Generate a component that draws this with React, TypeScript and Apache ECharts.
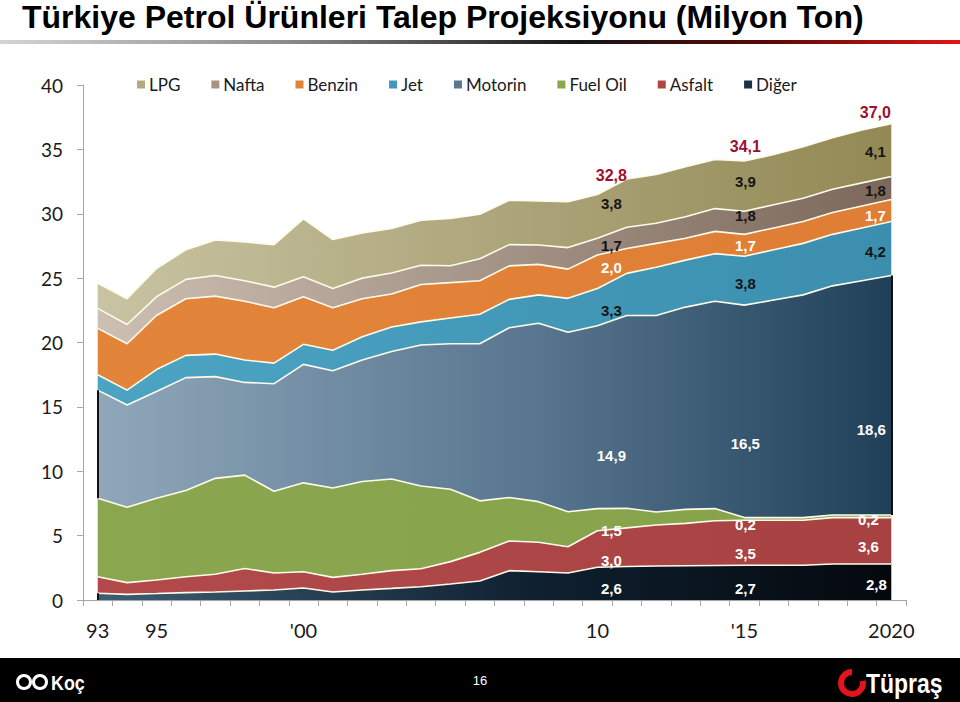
import React, { useEffect, useRef } from 'react';
import * as echarts from 'echarts';

// ---- categories ----
const years = ['1993','1994','1995','1996','1997','1998','1999','2000','2001','2002','2003','2004','2005','2006','2007','2008','2009','2010','2011','2012','2013','2014','2015','2016','2017','2018','2019','2020'];
const tickLabels: Record<string, string> = { '1993': '93', '1995': '95', '2000': "'00", '2010': '10', '2015': "'15", '2020': '2020' };

// ---- series values (Milyon Ton), bottom to top ----
const diger   = [0.52,0.44,0.5,0.57,0.62,0.7,0.78,0.93,0.62,0.78,0.9,1.03,1.24,1.48,2.28,2.2,2.1,2.54,2.6,2.64,2.66,2.68,2.7,2.7,2.7,2.8,2.8,2.8];
const asfalt  = [1.28,0.91,1.05,1.23,1.38,1.75,1.32,1.27,1.14,1.22,1.38,1.4,1.74,2.22,2.3,2.28,2.04,2.84,3.0,3.18,3.29,3.47,3.5,3.5,3.5,3.6,3.6,3.6];
const fuelOil = [6.1,5.85,6.35,6.7,7.45,7.25,6.35,6.9,6.94,7.2,7.12,6.42,5.62,4.0,3.38,3.16,2.72,1.72,1.52,1.01,1.09,0.95,0.2,0.2,0.2,0.2,0.2,0.2];
const motorin = [8.4,7.95,8.3,8.77,7.9,7.2,8.35,9.2,9.1,9.44,9.9,10.95,11.3,12.2,13.19,13.86,13.94,14.2,14.98,15.27,15.71,16.1,16.5,16.9,17.3,17.8,18.2,18.6];
const jet     = [1.2,1.15,1.7,1.73,1.75,1.74,1.6,1.56,1.6,1.81,1.9,1.8,2.0,2.3,2.2,2.2,2.63,2.9,3.27,3.74,3.65,3.7,3.8,3.9,4.0,4.0,4.1,4.2];
const benzin  = [3.6,3.6,4.2,4.4,4.5,4.56,4.3,3.7,3.3,2.95,2.57,2.9,2.75,2.6,2.6,2.37,2.27,2.6,1.93,1.86,1.7,1.73,1.7,1.7,1.7,1.7,1.7,1.7];
const nafta   = [1.55,1.5,1.45,1.5,1.6,1.6,1.6,1.54,1.5,1.6,1.63,1.5,1.31,1.7,1.65,1.5,1.67,1.3,1.65,1.56,1.67,1.77,1.8,1.8,1.8,1.8,1.8,1.8];
const lpg     = [1.95,2.0,2.2,2.3,2.76,3.0,3.3,4.5,3.8,3.5,3.45,3.5,3.68,3.46,3.45,3.43,3.57,3.4,3.75,3.8,3.88,3.82,3.9,3.9,4.0,4.0,4.1,4.1];

// ---- annotated values (Diğer, Asfalt, Fuel Oil, Motorin, Jet, Benzin, Nafta, LPG) ----
const annotYears = ['2010', '2015', '2020'];
const annotTotals = [32.8, 34.1, 37.0];
const annot2010 = [2.6, 3.0, 1.5, 14.9, 3.3, 2.0, 1.7, 3.8];
const annot2015 = [2.7, 3.5, 0.2, 16.5, 3.8, 1.7, 1.8, 3.9];
const annot2020 = [2.8, 3.6, 0.2, 18.6, 4.2, 1.7, 1.8, 4.1];

// label anchor heights (axis units; last = total) and horizontal nudges (px)
const annotPos = [
  [0.93, 3.1, 5.36, 11.26, 22.45, 25.86, 27.57, 30.76, 33.0],
  [0.93, 3.65, 5.9, 12.19, 24.62, 27.57, 29.83, 32.54, 35.26],
  [1.17, 4.12, 6.29, 13.28, 27.03, 29.9, 31.84, 34.8, 37.83],
];
const annotShift = [
  [14, 14, 14, 14, 14, 14, 14, 14, 14],
  [1, 1, 1, 1, 1, 1, 1, 1, 1],
  [-15, -23, -23, -20, -16, -16, -16, -16, -16],
];
const layerTextColor = ['#ffffff', '#ffffff', '#ffffff', '#ffffff', '#151515', '#ffffff', '#151515', '#151515'];

const seriesDefs = [
  { name: 'Diğer', data: diger, c0: '#3e5e74', c1: '#04080c', mid: '#0f2030', icon: '#1a3344' },
  { name: 'Asfalt', data: asfalt, c0: '#b24a4b', c1: '#a84242', icon: '#ae4646' },
  { name: 'Fuel Oil', data: fuelOil, c0: '#8aa64f', c1: '#86a24b', icon: '#8aa64f' },
  { name: 'Motorin', data: motorin, c0: '#8fa7b9', c1: '#20405a', mid: '#587690', icon: '#5a7890' },
  { name: 'Jet', data: jet, c0: '#4ca4c3', c1: '#3b8eae', icon: '#4499b8' },
  { name: 'Benzin', data: benzin, c0: '#e2853b', c1: '#df7e34', icon: '#e08238' },
  { name: 'Nafta', data: nafta, c0: '#cdbfb2', c1: '#7b685a', icon: '#a89282' },
  { name: 'LPG', data: lpg, c0: '#c8c3a2', c1: '#938955', icon: '#b2aa7c' },
];
const legendOrder = ['LPG', 'Nafta', 'Benzin', 'Jet', 'Motorin', 'Fuel Oil', 'Asfalt', 'Diğer'];

const fmt = (v: number) => v.toFixed(1).replace('.', ',');

function buildOption() {
  const last = years.length - 1;
  const cumF = (i: number) => diger[i] + asfalt[i] + fuelOil[i];
  const cumM = (i: number) => cumF(i) + motorin[i];

  const areaSeries = seriesDefs.map((s) => {
    const stops = s.mid
      ? [{ offset: 0, color: s.c0 }, { offset: 0.55, color: s.mid }, { offset: 1, color: s.c1 }]
      : [{ offset: 0, color: s.c0 }, { offset: 1, color: s.c1 }];
    const ser: any = {
      name: s.name,
      type: 'line',
      stack: 'total',
      data: s.data,
      symbol: 'none',
      itemStyle: { color: s.icon },
      lineStyle: { color: '#fffbea', width: 1.6 },
      areaStyle: { color: new echarts.graphic.LinearGradient(0, 0, 1, 0, stops), opacity: 1 },
      emphasis: { disabled: true },
      z: 2,
    };
    if (s.name === 'Motorin') {
      ser.markLine = {
        silent: true,
        symbol: ['none', 'none'],
        label: { show: false },
        lineStyle: { color: '#111', width: 2, type: 'solid' },
        data: [
          [{ coord: [0, cumF(0)] }, { coord: [0, cumM(0)] }],
          [{ coord: [0, 0] }, { coord: [0, diger[0]] }],
          [{ coord: [last, cumF(last)] }, { coord: [last, cumM(last)] }],
        ],
      };
    }
    return ser;
  });

  const annotData: any[] = [];
  const groups = [annot2010, annot2015, annot2020];
  groups.forEach((vals, g) => {
    const xi = years.indexOf(annotYears[g]);
    const items = [...vals.map((v, i) => ({ v, i })), { v: annotTotals[g], i: 8 }];
    items.forEach(({ v, i }) => {
      const isTotal = i === 8;
      annotData.push({
        value: [xi, annotPos[g][i]],
        label: {
          formatter: fmt(v),
          position: [annotShift[g][i], 0],
          color: isTotal ? '#9e0f30' : layerTextColor[i],
          fontSize: isTotal ? 16 : 15,
        },
      });
    });
  });

  const annotSeries = {
    name: 'annot',
    type: 'scatter',
    data: annotData,
    symbol: 'rect',
    symbolSize: 0.01,
    clip: false,
    itemStyle: { color: 'rgba(0,0,0,0)', opacity: 1 },
    label: {
      show: true,
      align: 'center',
      verticalAlign: 'middle',
      opacity: 1,
      fontFamily: 'Liberation Sans, Arial',
      fontWeight: 'bold',
      fontSize: 15,
    },
    labelLayout: { hideOverlap: false },
    emphasis: { disabled: true },
    z: 5,
  };

  return {
    animation: false,
    backgroundColor: '#ffffff',
    grid: { left: 83, right: 54, top: 85, bottom: 102, containLabel: false },
    legend: {
      data: legendOrder,
      left: 137,
      top: 76,
      icon: 'rect',
      itemWidth: 8,
      itemHeight: 8,
      itemGap: 31,
      padding: 0,
      textStyle: { fontFamily: 'Lato', fontSize: 17, color: '#1a1a1a', padding: [0, 0, 0, -1] },
    },
    xAxis: {
      type: 'category',
      data: years,
      boundaryGap: true,
      axisLine: { lineStyle: { color: '#a6a6a6', width: 1 } },
      axisTick: { show: true, interval: 0, length: 6, lineStyle: { color: '#a6a6a6' } },
      axisLabel: {
        interval: 0,
        margin: 20,
        fontFamily: 'Lato',
        fontSize: 20,
        color: '#1a1a1a',
        formatter: (v: string) => tickLabels[v] || '',
      },
      splitLine: { show: false },
    },
    yAxis: {
      type: 'value',
      min: 0,
      max: 40,
      interval: 5,
      axisLine: { show: true, lineStyle: { color: '#a6a6a6' } },
      axisTick: { show: true, length: 6, lineStyle: { color: '#a6a6a6' } },
      axisLabel: { margin: 20, fontFamily: 'Lato', fontSize: 19, color: '#1a1a1a' },
      splitLine: { show: false },
    },
    series: [...areaSeries, annotSeries],
    graphic: [
      {
        type: 'text',
        left: 22,
        top: 1,
        style: {
          text: 'Türkiye Petrol Ürünleri Talep Projeksiyonu (Milyon Ton)',
          font: 'bold 32px "Liberation Sans", Arial, sans-serif',
          fill: '#000',
        },
      },
      {
        type: 'rect',
        shape: { x: 0, y: 40, width: 960, height: 4 },
        style: {
          fill: new echarts.graphic.LinearGradient(0, 0, 1, 0, [
            { offset: 0, color: '#d4d4d4' },
            { offset: 0.3, color: '#8a8a8a' },
            { offset: 0.6, color: '#151515' },
            { offset: 0.8, color: '#5a0808' },
            { offset: 1, color: '#e31515' },
          ]),
        },
      },
      { type: 'rect', shape: { x: 0, y: 658, width: 960, height: 44 }, style: { fill: '#000' } },
      { type: 'circle', shape: { cx: 24, cy: 682, r: 6.5 }, style: { fill: 'none', stroke: '#fff', lineWidth: 3 } },
      { type: 'circle', shape: { cx: 40, cy: 682, r: 6.5 }, style: { fill: 'none', stroke: '#fff', lineWidth: 3 } },
      {
        type: 'text',
        x: 51,
        y: 682,
        scaleX: 0.85,
        style: { text: 'Koç', font: 'bold 21px "Liberation Sans", Arial', fill: '#fff', verticalAlign: 'middle' },
      },
      {
        type: 'text',
        x: 480,
        y: 680,
        style: { text: '16', font: '13px "Liberation Sans", Arial', fill: '#fff', align: 'center', verticalAlign: 'middle' },
      },
      {
        type: 'arc',
        shape: { cx: 852, cy: 683, r: 11, startAngle: -Math.PI / 2, endAngle: -0.2, clockwise: false },
        style: { stroke: '#e3141b', lineWidth: 6, fill: 'none' },
      },
      {
        type: 'text',
        x: 866,
        y: 683,
        scaleX: 0.82,
        style: { text: 'Tüpraş', font: 'bold 28px "Liberation Sans", Arial', fill: '#fff', verticalAlign: 'middle' },
      },
    ],
  };
}

export default function App() {
  const ref = useRef<HTMLDivElement>(null);
  useEffect(() => {
    if (!ref.current) return;
    const chart = echarts.init(ref.current, null, { renderer: 'svg' });
    chart.setOption(buildOption() as any);
    return () => chart.dispose();
  }, []);
  return (
    <div
      ref={ref}
      style={{ position: 'fixed', left: 0, top: 0, width: 960, height: 702, background: '#fff' }}
    />
  );
}
